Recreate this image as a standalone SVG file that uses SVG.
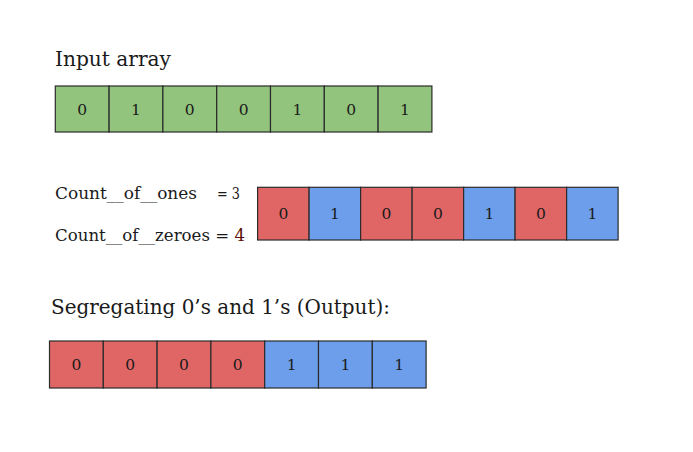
<svg xmlns="http://www.w3.org/2000/svg" width="693" height="452" viewBox="0 0 693 452">
<style>
text{font-family:"DejaVu Serif","Liberation Serif",serif;fill:#1a1a1a}
.title{font-size:20.5px}
.lbl{font-size:16.5px}
.d{font-size:15.5px;text-anchor:middle}
.c{stroke:#2b2b2b;stroke-width:1.2}
.g{fill:#93c47d}
.r{fill:#e06666}
.b{fill:#6d9eeb}
</style>
<rect width="693" height="452" fill="#ffffff"/>
<text class="title" x="55" y="66" textLength="116" lengthAdjust="spacingAndGlyphs">Input array</text>
<g id="input-array">
<rect class="c g" x="55.3" y="86" width="53.8" height="46"/>
<rect class="c g" x="109.1" y="86" width="53.8" height="46"/>
<rect class="c g" x="162.9" y="86" width="53.8" height="46"/>
<rect class="c g" x="216.7" y="86" width="53.8" height="46"/>
<rect class="c g" x="270.5" y="86" width="53.8" height="46"/>
<rect class="c g" x="324.3" y="86" width="53.8" height="46"/>
<rect class="c g" x="378.1" y="86" width="53.8" height="46"/>
<text class="d" x="82.2" y="114.5">0</text>
<text class="d" x="136" y="114.5">1</text>
<text class="d" x="189.8" y="114.5">0</text>
<text class="d" x="243.6" y="114.5">0</text>
<text class="d" x="297.4" y="114.5">1</text>
<text class="d" x="351.2" y="114.5">0</text>
<text class="d" x="405" y="114.5">1</text>
</g>
<g id="counts">
<text class="lbl" x="55" y="199" textLength="142" lengthAdjust="spacingAndGlyphs">Count__of__ones</text>
<text class="lbl" x="217" y="199" textLength="23" lengthAdjust="spacingAndGlyphs">= 3</text>
<text class="lbl" x="55" y="241" textLength="190" lengthAdjust="spacingAndGlyphs">Count__of__zeroes = <tspan style="fill:#5b0f00">4</tspan></text>
</g>
<g id="colored-array">
<rect class="c r" x="257.6" y="187.3" width="51.5" height="52.7"/>
<rect class="c b" x="309.1" y="187.3" width="51.5" height="52.7"/>
<rect class="c r" x="360.6" y="187.3" width="51.5" height="52.7"/>
<rect class="c r" x="412.1" y="187.3" width="51.5" height="52.7"/>
<rect class="c b" x="463.6" y="187.3" width="51.5" height="52.7"/>
<rect class="c r" x="515.1" y="187.3" width="51.5" height="52.7"/>
<rect class="c b" x="566.6" y="187.3" width="51.5" height="52.7"/>
<text class="d" x="283.4" y="219">0</text>
<text class="d" x="334.9" y="219">1</text>
<text class="d" x="386.4" y="219">0</text>
<text class="d" x="437.9" y="219">0</text>
<text class="d" x="489.4" y="219">1</text>
<text class="d" x="540.9" y="219">0</text>
<text class="d" x="592.4" y="219">1</text>
</g>
<text class="title" x="51" y="313.5" textLength="339" lengthAdjust="spacingAndGlyphs">Segregating 0’s and 1’s (Output):</text>
<g id="output-array">
<rect class="c r" x="49.5" y="341" width="53.8" height="47"/>
<rect class="c r" x="103.3" y="341" width="53.8" height="47"/>
<rect class="c r" x="157.1" y="341" width="53.8" height="47"/>
<rect class="c r" x="210.9" y="341" width="53.8" height="47"/>
<rect class="c b" x="264.7" y="341" width="53.8" height="47"/>
<rect class="c b" x="318.5" y="341" width="53.8" height="47"/>
<rect class="c b" x="372.3" y="341" width="53.8" height="47"/>
<text class="d" x="76.4" y="370">0</text>
<text class="d" x="130.2" y="370">0</text>
<text class="d" x="184" y="370">0</text>
<text class="d" x="237.8" y="370">0</text>
<text class="d" x="291.6" y="370">1</text>
<text class="d" x="345.4" y="370">1</text>
<text class="d" x="399.2" y="370">1</text>
</g>
<g id="connectors"></g>
</svg>
